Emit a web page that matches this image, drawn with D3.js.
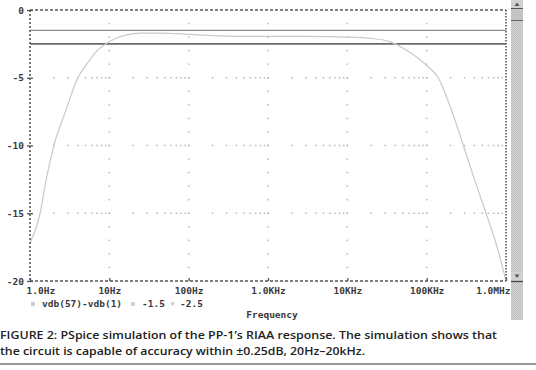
<!DOCTYPE html>
<html><head><meta charset="utf-8">
<script src="https://cdn.jsdelivr.net/npm/d3@7"></script>
<style>body{margin:0;background:#fff}svg{display:block}</style>
</head><body><svg id="c" width="536" height="370"></svg>
<script>
// Data
const freqs = [1,1.34,1.6,2,2.8,4,5.5,7,9,12,16,25,40,70,150,500,1000,3000,10000,20000,35000,50000,80000,100000,140000,200000,290000,400000,560000,800000,1000000];
const respDb = [-17.2,-15,-12.5,-10,-7.5,-5,-3.8,-3.0,-2.5,-2.1,-1.85,-1.7,-1.7,-1.75,-1.85,-1.95,-1.95,-1.95,-2.0,-2.1,-2.35,-2.8,-3.6,-4.1,-5,-7.2,-10,-12.5,-15,-17.8,-20];
const limitLines = [-1.5, -2.5];
const xTickVals = [1,10,100,1000,10000,100000,1000000];
const xTickLabels = ["1.0Hz","10Hz","100Hz","1.0KHz","10KHz","100KHz","1.0MHz"];
const yTickVals = [0,-5,-10,-15,-20];
const legendItems = ["vdb(57)-vdb(1)","-1.5","-2.5"];
const captionLines = ["FIGURE 2: PSpice simulation of the PP-1\u2019s RIAA response. The simulation shows that",
  "the circuit is capable of accuracy within \u00b10.25dB, 20Hz\u201320kHz."];

const svg = d3.select("#c");
const x = d3.scaleLog().domain([1,1e6]).range([30,506]);
const y = d3.scaleLinear().domain([0,-20]).range([10,281]);
const axisCol = "#555", gridCol = "#b8b8b8";
const mono = "'DejaVu Sans Mono', monospace";

// grid: horizontal (every 5 dB) as dots at log minor positions
const minor = [];
for (let d=1; d<1e6; d*=10) for (let k=1;k<=9;k++) if (d*k>1 && d*k<1e6) minor.push(d*k);
const g = svg.append("g");
[-5,-10,-15].forEach(v=>{
  g.selectAll(null).data(minor).enter().append("rect")
    .attr("x",d=>x(d)-0.75).attr("y",y(v)-0.75).attr("width",1.5).attr("height",1.5).attr("fill",gridCol);
});
// vertical grid at decades, dots every 1 dB
const dbs = d3.range(-1,-20,-1);
xTickVals.slice(1,-1).forEach(f=>{
  g.selectAll(null).data(dbs).enter().append("rect")
    .attr("x",x(f)-0.75).attr("y",d=>y(d)-0.75).attr("width",1.5).attr("height",1.5).attr("fill",gridCol);
});

// limit lines
svg.selectAll(".lim").data(limitLines).enter().append("line")
  .attr("x1",x(1)).attr("x2",x(1e6)).attr("y1",d=>y(d)).attr("y2",d=>y(d))
  .attr("stroke",(d,i)=>i?"#6a6a6a":"#8c8c8c").attr("stroke-width",(d,i)=>i?1.6:1.3);

// response curve
const line = d3.line().x((d,i)=>x(freqs[i])).y(d=>y(d)).curve(d3.curveMonotoneX);
svg.append("path").datum(respDb).attr("d",line).attr("fill","none")
  .attr("stroke","#c9c9c9").attr("stroke-width",1.2);

// frame
const frame = svg.append("g").attr("stroke",axisCol).attr("stroke-width",1.6).attr("fill","none");
frame.append("line").attr("x1",x(1)).attr("x2",x(1e6)).attr("y1",y(0)).attr("y2",y(0)).attr("stroke-dasharray","3,2");
frame.append("line").attr("x1",x(1)).attr("x2",x(1e6)).attr("y1",y(-20)).attr("y2",y(-20)).attr("stroke-dasharray","3,2");
frame.append("line").attr("x1",x(1)).attr("x2",x(1)).attr("y1",y(0)).attr("y2",y(-20)).attr("stroke-dasharray","2,2");
frame.append("line").attr("x1",x(1e6)).attr("x2",x(1e6)).attr("y1",y(0)).attr("y2",y(-20)).attr("stroke-dasharray","1.5,1.5");

// axes
const xa = d3.axisBottom(x).tickValues(xTickVals).tickFormat((d,i)=>xTickLabels[i]).tickSize(-3).tickPadding(6);
const xg = svg.append("g").attr("transform",`translate(0,${y(-20)})`).call(xa);
xg.select(".domain").remove();
xg.selectAll("line").attr("stroke",axisCol).attr("stroke-width",1.3);
xg.selectAll("text").attr("font-family",mono).attr("font-weight","bold").attr("font-size",9.5).attr("fill","#3a3a3a");
xg.selectAll(".tick text").filter((d,i)=>i===0).attr("text-anchor","start").attr("dx",-4);
xg.selectAll(".tick text").filter((d,i)=>i===xTickVals.length-1).attr("text-anchor","end").attr("dx",4);

const ya = d3.axisLeft(y).tickValues(yTickVals).tickFormat(d=>d).tickSizeInner(3).tickSizeOuter(0).tickPadding(3);
const yg = svg.append("g").attr("transform",`translate(${x(1)},0)`).call(ya);
yg.select(".domain").remove();
yg.selectAll("line").attr("stroke",axisCol).attr("stroke-width",1.3);
yg.selectAll(".tick").append("line").attr("x1",0).attr("x2",3).attr("stroke",axisCol).attr("stroke-width",1.3);
yg.selectAll("text").attr("font-family",mono).attr("font-weight","bold").attr("font-size",9.5).attr("fill","#3a3a3a");

// x-axis title
svg.append("text").attr("x",272).attr("y",318).attr("text-anchor","middle")
  .attr("font-family",mono).attr("font-weight","bold").attr("font-size",9.5).attr("fill","#3a3a3a").text("Frequency");

// legend
const lg = svg.append("g").attr("font-family",mono).attr("font-weight","bold").attr("font-size",9.5).attr("fill","#3a3a3a");
const legX = [42,142,180];
const legY = [307,307,307];
lg.append("rect").attr("x",31).attr("y",302).attr("width",4).attr("height",4).attr("fill","#d0d0d0");
lg.append("rect").attr("x",131).attr("y",302).attr("width",4).attr("height",4).attr("fill","#d0d0d0");
lg.append("text").attr("x",170).attr("y",306).attr("fill","#777").attr("font-size",8).text("\u25bf");
lg.selectAll(".lt").data(legendItems).enter().append("text")
  .attr("x",(d,i)=>legX[i]).attr("y",(d,i)=>legY[i]).text(d=>d);

// scrollbar
const sb = svg.append("g");
const pat = svg.append("defs").append("pattern").attr("id","chk").attr("width",2).attr("height",2).attr("patternUnits","userSpaceOnUse");
pat.append("rect").attr("width",2).attr("height",2).attr("fill","#d6d6d6");
pat.append("rect").attr("width",1).attr("height",1).attr("fill","#bdbdbd");
pat.append("rect").attr("x",1).attr("y",1).attr("width",1).attr("height",1).attr("fill","#bdbdbd");
sb.append("rect").attr("x",511).attr("y",0).attr("width",12).attr("height",320).attr("fill","url(#chk)");
sb.append("rect").attr("x",511).attr("y",0).attr("width",12).attr("height",8).attr("fill","#d0d0d0");
sb.append("line").attr("x1",511).attr("x2",523).attr("y1",8.5).attr("y2",8.5).attr("stroke","#555");
sb.append("rect").attr("x",511).attr("y",10).attr("width",12).attr("height",10).attr("fill","#c4c4c4");
sb.append("line").attr("x1",511).attr("x2",523).attr("y1",20.5).attr("y2",20.5).attr("stroke","#666");
sb.append("path").attr("d","M514.5,6 L519.5,6 L517,2.5 Z").attr("fill","#555");
sb.append("rect").attr("x",511).attr("y",272).attr("width",12).attr("height",10).attr("fill","#d0d0d0");
sb.append("line").attr("x1",511).attr("x2",523).attr("y1",281.5).attr("y2",281.5).attr("stroke","#444").attr("stroke-width",1.3);
sb.append("path").attr("d","M514.5,274.5 L519.5,274.5 L517,278 Z").attr("fill","#555");

// caption
const cap = svg.append("g").attr("font-family","'Open Sans', sans-serif").attr("font-weight","600").attr("font-size",11.5).attr("fill","#222");
cap.append("text").attr("x",0).attr("y",339).attr("textLength",497).attr("lengthAdjust","spacingAndGlyphs").text(captionLines[0]);
cap.append("text").attr("x",0).attr("y",355).attr("textLength",365).attr("lengthAdjust","spacingAndGlyphs").text(captionLines[1]);
svg.append("line").attr("x1",0).attr("x2",536).attr("y1",364).attr("y2",364).attr("stroke","#333").attr("stroke-width",1.2);
</script></body></html>
